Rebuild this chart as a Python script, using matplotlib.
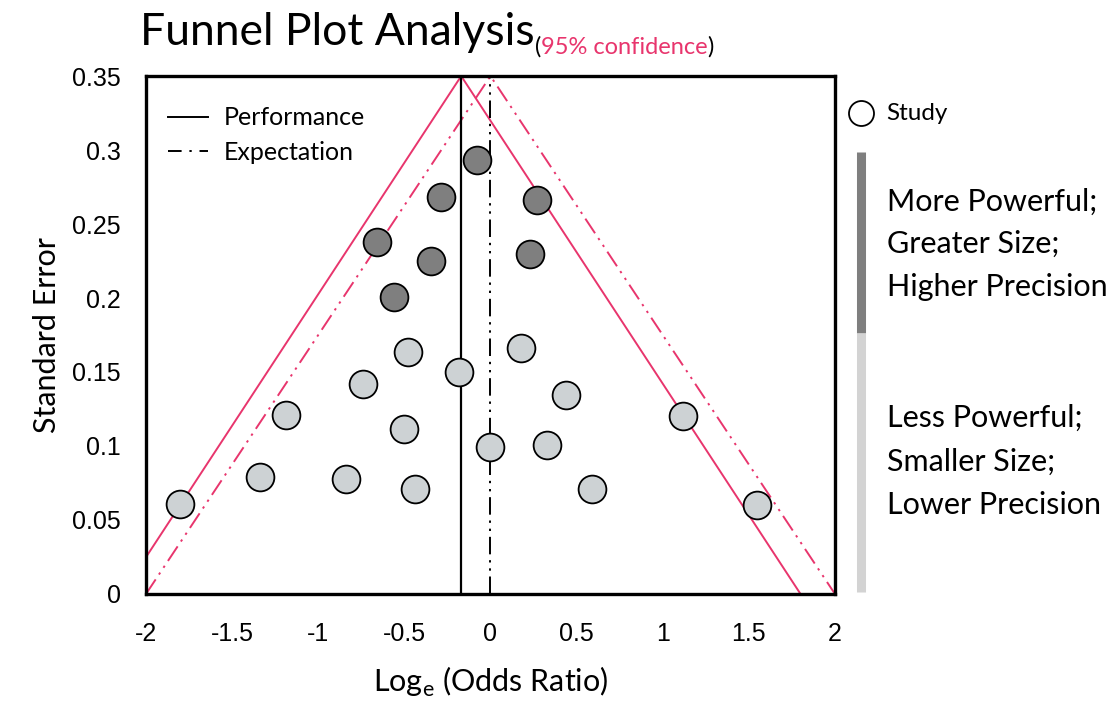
import matplotlib
matplotlib.use("Agg")
import matplotlib.pyplot as plt
from matplotlib.lines import Line2D

# ---- data ----
dark_x = [-0.08, -0.29, 0.27, -0.66, -0.345, 0.23, -0.56]
dark_y = [0.293, 0.268, 0.266, 0.238, 0.225, 0.230, 0.201]
light_x = [-0.48, 0.18, -0.18, -0.74, 0.44, -1.19, 1.12, -0.50, 0.00, 0.33,
           -1.34, -0.84, -0.44, 0.59, -1.80, 1.55]
light_y = [0.1635, 0.166, 0.150, 0.142, 0.1345, 0.121, 0.1205, 0.1115, 0.0993, 0.1007,
           0.079, 0.0777, 0.0709, 0.0709, 0.0608, 0.0601]
performance = -0.17
expectation = 0.0
funnel_half = 1.97
apex_se = 0.35
xticks = [-2, -1.5, -1, -0.5, 0, 0.5, 1, 1.5, 2]
yticks = [0, 0.05, 0.1, 0.15, 0.2, 0.25, 0.3, 0.35]
ytick_labels = ["0", "0.05", "0.1", "0.15", "0.2", "0.25", "0.3", "0.35"]

PINK = "#E8356D"
DARK = "#7F7F7F"
LIGHT = "#CDD2D4"
MAINF = ["Lato", "DejaVu Sans"]
NARROW = ["Liberation Sans Narrow", "Liberation Sans", "DejaVu Sans"]

fig = plt.figure(figsize=(11.17, 7.04), dpi=100)
ax = fig.add_axes([0.1307, 0.1563, 0.6168, 0.7357])
ax.set_xlim(-2, 2)
ax.set_ylim(0, 0.35)

ddd = (0, (9, 3, 1.2, 3, 1.2, 3))
# funnel lines
ax.plot([performance - funnel_half, performance, performance + funnel_half], [0, apex_se, 0],
        color=PINK, lw=1.4, zorder=2)
ax.plot([expectation - 2, expectation, expectation + 2], [0, apex_se, 0],
        color=PINK, lw=1.4, linestyle=ddd, zorder=2)
# center lines
ax.plot([performance, performance], [0, apex_se], color="black", lw=1.6, zorder=2)
ax.plot([expectation, expectation], [0, apex_se], color="black", lw=1.4, linestyle=ddd, zorder=2)

ax.scatter(dark_x, dark_y, s=400, c=DARK, edgecolors="black", linewidths=1.3, zorder=3)
ax.scatter(light_x, light_y, s=400, c=LIGHT, edgecolors="black", linewidths=1.3, zorder=3)

for sp in ax.spines.values():
    sp.set_linewidth(2.4)
ax.set_xticks(xticks)
ax.set_xticklabels([("%g" % v) for v in xticks], fontfamily=NARROW, fontsize=18)
ax.set_yticks(yticks)
ax.set_yticklabels(ytick_labels, fontfamily=NARROW, fontsize=18)
ax.tick_params(length=0, pad=18)
ax.tick_params(axis="x", pad=20)

ax.set_xlabel(r"Log$_{\mathregular{e}}$ (Odds Ratio)", fontfamily=MAINF, fontsize=22, labelpad=14)
ax.set_ylabel("Standard Error", fontfamily=MAINF, fontsize=22, labelpad=8)

handles = [Line2D([0], [0], color="black", lw=1.4),
           Line2D([0], [0], color="black", lw=1.4, linestyle=(0, (7, 4, 1.2, 4)))]
ax.legend(handles, ["Performance", "Expectation"], loc="upper left", frameon=False,
          prop={"family": MAINF, "size": 18}, handlelength=1.6, handletextpad=0.6,
          labelspacing=0.45, bbox_to_anchor=(0.0, 0.985), borderaxespad=0.5)

# title
t = fig.text(140 / 1117, 1 - 45 / 704, "Funnel Plot Analysis", fontfamily=MAINF, fontsize=32,
             ha="left", va="baseline")
fig.canvas.draw()
r = fig.canvas.get_renderer()
bb = t.get_window_extent(r)
x0 = bb.x1 / fig.bbox.width
sy = 1 - 54 / 704
t2 = fig.text(x0, sy, "(", fontfamily=MAINF, fontsize=17, ha="left", va="baseline")
bb2 = t2.get_window_extent(r)
t3 = fig.text(bb2.x1 / fig.bbox.width, sy, "95% confidence", color=PINK,
              fontfamily=MAINF, fontsize=17, ha="left", va="baseline")
bb3 = t3.get_window_extent(r)
fig.text(bb3.x1 / fig.bbox.width, sy, ")", fontfamily=MAINF, fontsize=17,
         ha="left", va="baseline")

# right side legend
fig.add_artist(Line2D([861 / 1117], [1 - 113 / 704], marker="o", markersize=18,
                      markerfacecolor="white", markeredgecolor="black", markeredgewidth=1.3,
                      transform=fig.transFigure))
fig.text(886 / 1117, 1 - 113 / 704, "Study", fontfamily=MAINF, fontsize=17.5, ha="left", va="center")
fig.add_artist(Line2D([861 / 1117, 861 / 1117], [1 - 152 / 704, 1 - 333 / 704], color=DARK,
                      lw=6.5, solid_capstyle="butt", transform=fig.transFigure))
fig.add_artist(Line2D([861 / 1117, 861 / 1117], [1 - 333 / 704, 1 - 592 / 704], color="#D3D3D3",
                      lw=6.5, solid_capstyle="butt", transform=fig.transFigure))
for txt, ypx in [("More Powerful;", 202), ("Greater Size;", 244), ("Higher Precision", 287),
                 ("Less Powerful;", 418), ("Smaller Size;", 462), ("Lower Precision", 505)]:
    fig.text(887 / 1117, 1 - ypx / 704, txt, fontfamily=MAINF, fontsize=22, ha="left", va="center")

fig.savefig("out.png", dpi=100)
